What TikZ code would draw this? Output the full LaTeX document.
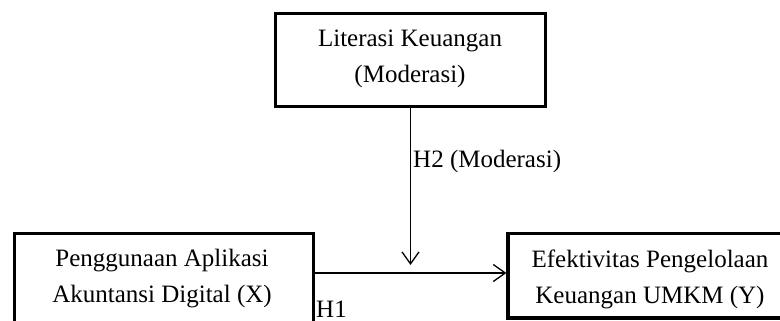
\documentclass[tikz,border=0pt]{standalone}
\usepackage{fontspec}
\setmainfont{Liberation Serif}
\usetikzlibrary{arrows.meta}
\begin{document}
\begin{tikzpicture}[x=1pt,y=-1pt,
  boxnode/.style={draw=black, line width=3.2pt, inner sep=0pt},
  txt/.style={font=\fontsize{25}{36}\selectfont, align=center, inner sep=0pt, text=black},
  lbl/.style={font=\fontsize{25}{30}\selectfont, inner sep=0pt, text=black},
  arr/.style={line width=1.3pt, -{Straight Barb[length=12pt,width=17pt]}}]
\useasboundingbox (0,0) rectangle (780,321);
\clip (0,0) rectangle (780,321);
% boxes
\node[boxnode, minimum width=270pt, minimum height=93.4pt] (m) at (410.5,60) {};
\node[boxnode, minimum width=299.5pt, minimum height=91pt] (x) at (164,279) {};
\node[boxnode, minimum width=284pt, minimum height=84.5pt] (y) at (650,275.75) {};
% texts
\node[txt] (mt) at (410,58.4) {Literasi Keuangan\\(Moderasi)};
\node[txt] (xt) at (162,278.7) {Penggunaan Aplikasi\\Akuntansi Digital (X)};
\node[txt] (yt) at (650,279.2) {Efektivitas Pengelolaan\\Keuangan UMKM (Y)};
% connectors
\coordinate (hl) at (0,273);
\coordinate (vtip) at (410.5,265);
\draw[arr] (x.east |- hl) -- (y.west |- hl);
\draw[arr] (m.south) -- (vtip);
% labels
\node[lbl, anchor=base west] (h2) at (413,167) {H2 (Moderasi)};
\node[lbl, anchor=base west] (h1) at (316,317) {H1};
\end{tikzpicture}
\end{document}
